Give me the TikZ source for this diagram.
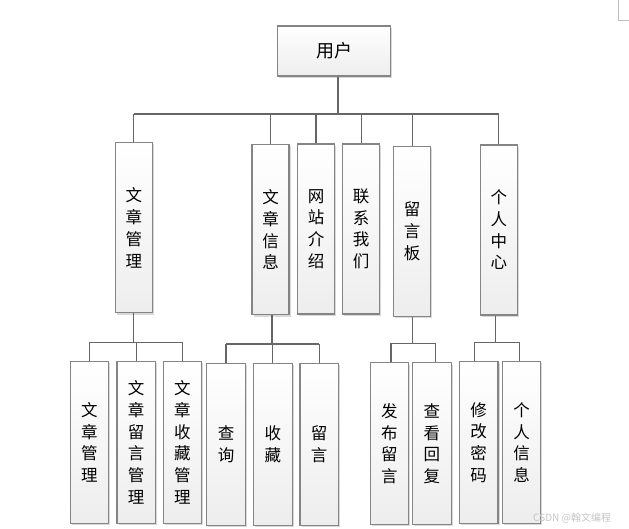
\documentclass[tikz,border=0pt]{standalone}
\usepackage{fontspec}
\newfontfamily\cjk{Noto Sans CJK SC}
\usetikzlibrary{shadows}
\definecolor{boxline}{HTML}{858585}
\definecolor{connline}{HTML}{666666}
\definecolor{wmark}{HTML}{C4C4C4}
\tikzset{
  box/.style={draw=boxline, line width=1.1pt, top color=white, bottom color=black!7,
    inner sep=0pt, align=center, font=\cjk\fontsize{16.5}{21.7}\selectfont,
    drop shadow={shadow xshift=1.6pt, shadow yshift=-1.6pt, fill=black!25, opacity=0.6}},
  vbox/.style={box, minimum width=37pt, minimum height=170pt},
  lbox/.style={box, minimum width=38.5pt, minimum height=161.6pt},
  conn/.style={draw=connline, line width=1.3pt}
}
\begin{document}
\begin{tikzpicture}[x=1pt,y=-1pt]
\useasboundingbox (0,0) rectangle (629,529);
% corner mark
\draw[black!25, line width=0.8pt] (618.3,0) -- (618.3,20.3) -- (629,20.3);
% root
\node[box, minimum width=113.4pt, minimum height=50pt, font=\cjk\fontsize{18}{22}\selectfont] (root) at (334,51) {用户};
% level 1
\node[vbox] (wzgl) at (133.8,227.9) {文\\章\\管\\理};
\node[vbox] (wzxx) at (270.5,229.9) {文\\章\\信\\息};
\node[vbox] (wzjs) at (316,229) {网\\站\\介\\绍};
\node[vbox] (lxwm) at (361.2,229) {联\\系\\我\\们};
\node[vbox] (lyb) at (412.2,231.3) {留\\言\\板};
\node[vbox] (grzx) at (498.8,230) {个\\人\\中\\心};
% level 2
\node[lbox] (a1) at (89.3,442.5) {文\\章\\管\\理};
\node[lbox] (a2) at (136.2,442.5) {文\\章\\留\\言\\管\\理};
\node[lbox] (a3) at (182.3,442.5) {文\\章\\收\\藏\\管\\理};
\node[lbox] (b1) at (226,444.3) {查\\询};
\node[lbox] (b2) at (272.8,444.3) {收\\藏};
\node[lbox] (b3) at (319.2,444.3) {留\\言};
\node[lbox] (c1) at (389.3,443.7) {发\\布\\留\\言};
\node[lbox] (c2) at (431.8,443.7) {查\\看\\回\\复};
\node[lbox] (d1) at (478.7,442.5) {修\\改\\密\\码};
\node[lbox] (d2) at (521.5,442.5) {个\\人\\信\\息};
% bus coordinates
\coordinate (bus0) at (0,114);
\coordinate (busa) at (0,342.3);
\coordinate (busb) at (0,344);
\coordinate (busc) at (0,343.3);
\coordinate (busd) at (0,342.3);
% connectors level 1
\draw[conn] ([xshift=4pt]root.south) -- ([xshift=4pt]root.south |- bus0);
\draw[conn] (bus0 -| wzgl.north) -- (bus0 -| grzx.north);
\foreach \n in {wzgl,wzxx,wzjs,lxwm,lyb,grzx}{
  \draw[conn] (bus0 -| \n.north) -- (\n.north);
}
% connectors level 2
\draw[conn] (wzgl.south) -- (wzgl.south |- busa);
\draw[conn] (busa -| a1.north) -- (busa -| a3.north);
\foreach \n in {a1,a2,a3}{\draw[conn] (busa -| \n.north) -- (\n.north);}
\draw[conn] ([xshift=1.5pt]wzxx.south) -- ([xshift=1.5pt]wzxx.south |- busb);
\draw[conn] (busb -| b1.north) -- (busb -| b3.north);
\foreach \n in {b1,b2,b3}{\draw[conn] (busb -| \n.north) -- (\n.north);}
\draw[conn] (lyb.south) -- (lyb.south |- busc);
\draw[conn] ([xshift=1.7pt]busc -| c1.north) -- ([xshift=4pt]busc -| c2.north);
\draw[conn] ([xshift=1.7pt]busc -| c1.north) -- ([xshift=1.7pt]c1.north);
\draw[conn] ([xshift=4pt]busc -| c2.north) -- ([xshift=4pt]c2.north);
\draw[conn] ([xshift=-3pt]grzx.south) -- ([xshift=-3pt]grzx.south |- busd);
\draw[conn] ([xshift=-4.4pt]busd -| d1.north) -- ([xshift=-2.2pt]busd -| d2.north);
\draw[conn] ([xshift=-4.4pt]busd -| d1.north) -- ([xshift=-4.4pt]d1.north);
\draw[conn] ([xshift=-2.2pt]busd -| d2.north) -- ([xshift=-2.2pt]d2.north);
% watermark
\node[text=wmark, font=\cjk\fontsize{10}{12}\selectfont, inner sep=0pt, anchor=west] (wm) at (533,518) {CSDN @翰文编程};
\end{tikzpicture}
\end{document}
